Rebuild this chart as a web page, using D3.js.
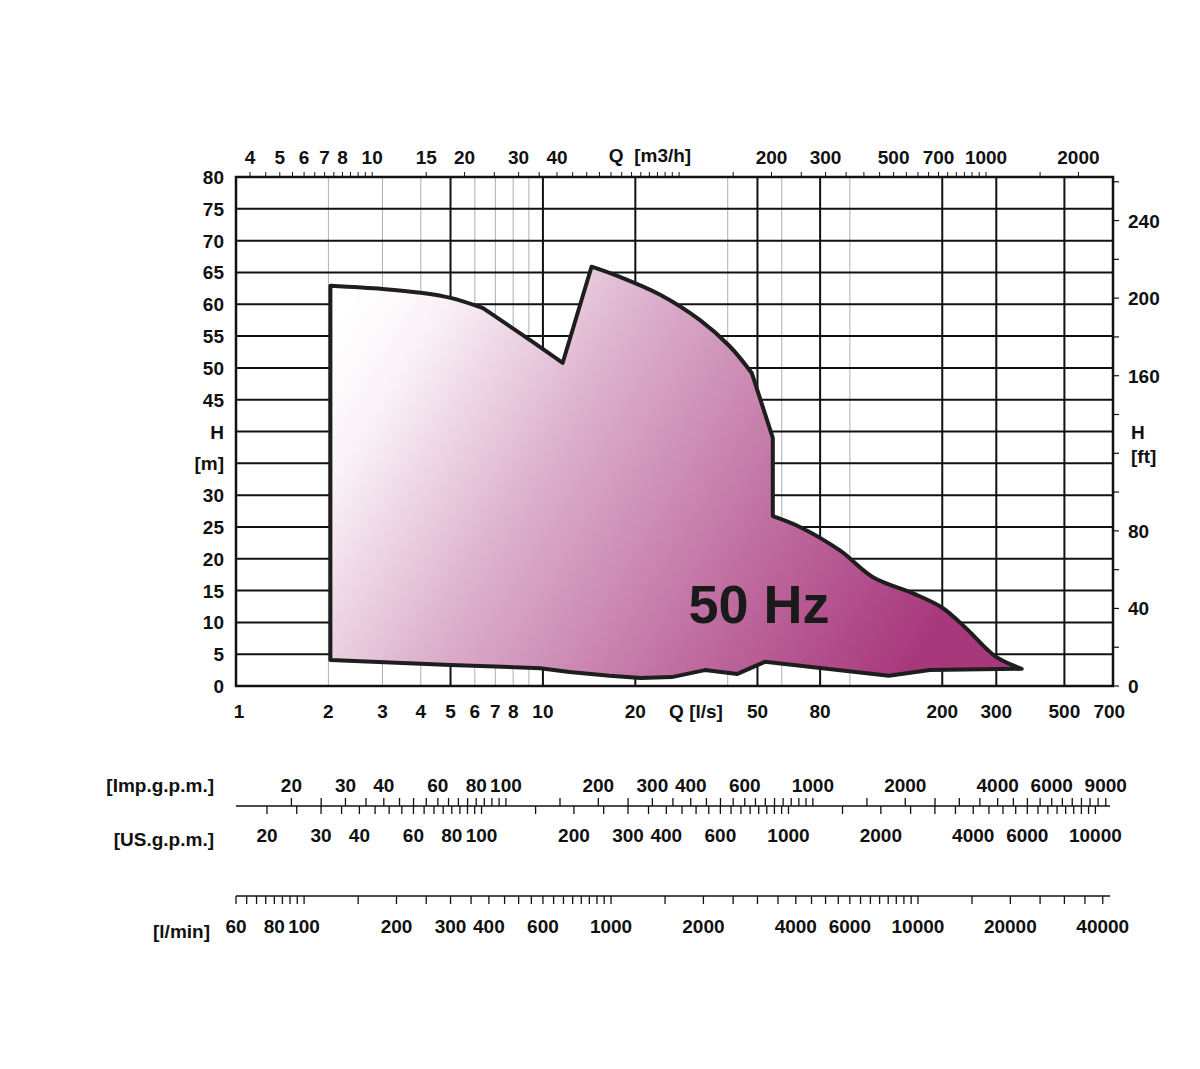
<!DOCTYPE html>
<html>
<head>
<meta charset="utf-8">
<script src="https://cdn.jsdelivr.net/npm/d3@7"></script>
<style>
  html, body { margin: 0; padding: 0; background: #ffffff; }
  svg { display: block; }
  text { font-family: "Liberation Sans", Arial, Helvetica, sans-serif; font-weight: bold; fill: #111; }
</style>
</head>
<body>
<svg id="chart" width="1200" height="1069"></svg>
<script>
// ---------------- data ----------------
// Operating envelope (Q in l/s, H in m), split into edge segments
const edgeLeftQ = [2.03, 2.03];
const edgeLeftH = [4.1, 62.9];
const edgeUpperLeftQ = [2.03, 3, 4, 5, 6.38];
const edgeUpperLeftH = [62.9, 62.4, 61.8, 61.0, 59.4];
const edgeNotchQ = [6.38, 9.06, 11.6, 14.4];
const edgeNotchH = [59.4, 54.4, 50.8, 65.9];
const edgeUpperMidQ = [14.4, 17.8, 24.1, 32.5, 40.6, 47.9];
const edgeUpperMidH = [65.9, 64.3, 61.5, 57.5, 53.4, 49.2];
const edgeDropQ = [47.9, 56.1, 56.1];
const edgeDropH = [49.2, 39.0, 26.7];
const edgeUpperRightQ = [56.1, 68.7, 92.8, 118.9, 160, 200, 240, 297, 363];
const edgeUpperRightH = [26.7, 25.0, 21.3, 17.1, 14.6, 12.3, 9.0, 4.7, 2.7];
const edgeLowerQ = [363, 182, 134, 52.9, 43, 33.7, 26.3, 20.8, 16.5, 12.2, 9.8, 5, 2.03];
const edgeLowerH = [2.7, 2.5, 1.6, 3.8, 1.9, 2.5, 1.4, 1.25, 1.6, 2.2, 2.8, 3.3, 4.1];
const freqLabel = "50 Hz";

// main axes
const qDomain = [1, 720];          // l/s
const hDomain = [0, 80];           // m
const hTickLabels = [0, 5, 10, 15, 20, 25, 30, "[m]", "H", 45, 50, 55, 60, 65, 70, 75, 80];
const hGrid = [5, 10, 15, 20, 25, 30, 35, 40, 45, 50, 55, 60, 65, 70, 75];
const ftTickLabels = [0, 40, 80, 160, 200, 240];
const ftTicks = [0, 20, 40, 60, 80, 100, 120, 140, 160, 180, 200, 220, 240, 260];
const qGridBlack = [5, 10, 20, 50, 80, 200, 300, 500];
const qGridGray = [2, 3, 4, 6, 7, 8, 9, 40, 60, 100];
const lsLabels = [1, 2, 3, 4, 5, 6, 7, 8, 10, 20, 50, 80, 200, 300, 500, 700];
const m3hLabels = [4, 5, 6, 7, 8, 10, 15, 20, 30, 40, 200, 300, 500, 700, 1000, 2000];
const m3hTicks = [4, 4.5, 5, 5.5, 6, 6.5, 7, 7.5, 8, 8.5, 9, 9.5, 10, 15, 20, 25, 30, 35, 40, 45, 50, 55, 60, 65, 70, 75, 80, 85, 90, 95, 100,
                  150, 200, 250, 300, 350, 400, 450, 500, 550, 600, 650, 700, 750, 800, 850, 900, 950, 1000, 1500, 2000];

// secondary flow scales
const impLabels = [20, 30, 40, 60, 80, 100, 200, 300, 400, 600, 1000, 2000, 4000, 6000, 9000];
const usLabels = [20, 30, 40, 60, 80, 100, 200, 300, 400, 600, 1000, 2000, 4000, 6000, 10000];
const gpmTicks = [20, 25, 30, 35, 40, 45, 50, 55, 60, 65, 70, 75, 80, 85, 90, 95, 100,
                  150, 200, 250, 300, 350, 400, 450, 500, 550, 600, 650, 700, 750, 800, 850, 900, 950, 1000,
                  1500, 2000, 2500, 3000, 3500, 4000, 4500, 5000, 5500, 6000, 6500, 7000, 7500, 8000, 8500, 9000, 9500, 10000];
const lminLabels = [60, 80, 100, 200, 300, 400, 600, 1000, 2000, 4000, 6000, 10000, 20000, 40000];
const lminTicks = [60, 65, 70, 75, 80, 85, 90, 95, 100,
                   150, 200, 250, 300, 350, 400, 450, 500, 550, 600, 650, 700, 750, 800, 850, 900, 950, 1000,
                   1500, 2000, 2500, 3000, 3500, 4000, 4500, 5000, 5500, 6000, 6500, 7000, 7500, 8000, 8500, 9000, 9500, 10000,
                   15000, 20000, 25000, 30000, 35000, 40000];

// unit conversion factors relative to l/s and m
const M3H_PER_LS = 3.6, IMP_PER_LS = 13.198, US_PER_LS = 15.850, LMIN_PER_LS = 60, FT_PER_M = 3.2808;

// ---------------- layout ----------------
const L = 236, R = 1113, T = 177, B = 686;
const FS = "19px";
const svg = d3.select("#chart");

const x = d3.scaleLog().domain(qDomain).range([L, R]);
const y = d3.scaleLinear().domain(hDomain).range([B, T]);
const yFt = d3.scaleLinear().domain([hDomain[0] * FT_PER_M, hDomain[1] * FT_PER_M]).range([B, T]);
const xM3h = d3.scaleLog().domain(qDomain.map(v => v * M3H_PER_LS)).range([L, R]);
const xImp = d3.scaleLog().domain(qDomain.map(v => v * IMP_PER_LS)).range([L, R]);
const xUs = d3.scaleLog().domain(qDomain.map(v => v * US_PER_LS)).range([L, R]);
const xLmin = d3.scaleLog().domain(qDomain.map(v => v * LMIN_PER_LS)).range([L, R]);

// gradient
const defs = svg.append("defs");
const grad = defs.append("linearGradient").attr("id", "fillGrad")
  .attr("gradientUnits", "userSpaceOnUse")
  .attr("x1", 350).attr("y1", 300).attr("x2", 920).attr("y2", 650);
[[0, "#ffffff"], [0.12, "#faf2f7"], [0.38, "#dcb0cc"], [0.7, "#c06fa1"], [1, "#a8387c"]]
  .forEach(([o, c]) => grad.append("stop").attr("offset", o).attr("stop-color", c));

// ---------------- grid ----------------
const grid = svg.append("g");
grid.selectAll(".vg").data(qGridGray).join("line")
  .attr("x1", d => x(d)).attr("x2", d => x(d)).attr("y1", T).attr("y2", B)
  .attr("stroke", "#b0b0b0").attr("stroke-width", 1);
grid.selectAll(".hg").data(hGrid).join("line")
  .attr("x1", L).attr("x2", R).attr("y1", d => y(d)).attr("y2", d => y(d))
  .attr("stroke", "#111").attr("stroke-width", 2);
grid.selectAll(".vb").data(qGridBlack).join("line")
  .attr("x1", d => x(d)).attr("x2", d => x(d)).attr("y1", T).attr("y2", B)
  .attr("stroke", "#111").attr("stroke-width", 2);

// ---------------- envelope ----------------
const smooth = d3.curveCatmullRom.alpha(0.5);
const segments = [
  [edgeLeftQ, edgeLeftH, d3.curveLinear],
  [edgeUpperLeftQ, edgeUpperLeftH, smooth],
  [edgeNotchQ, edgeNotchH, d3.curveLinear],
  [edgeUpperMidQ, edgeUpperMidH, smooth],
  [edgeDropQ, edgeDropH, d3.curveLinear],
  [edgeUpperRightQ, edgeUpperRightH, smooth],
  [edgeLowerQ, edgeLowerH, d3.curveLinear]
];
let pathD = "";
segments.forEach(([qs, hs, curve], i) => {
  const p = d3.line().curve(curve)(qs.map((q, j) => [x(q), y(hs[j])]));
  pathD += i === 0 ? p : "L" + p.slice(1);
});
pathD += "Z";
svg.append("path")
  .attr("d", pathD)
  .attr("fill", "url(#fillGrad)")
  .attr("stroke", "#1e1e1e").attr("stroke-width", 4).attr("stroke-linejoin", "round");

svg.append("text").text(freqLabel)
  .attr("x", 759).attr("y", 623).attr("text-anchor", "middle")
  .style("font-size", "54px").style("fill", "#1a1a1a");

// frame
svg.append("rect").attr("x", L).attr("y", T).attr("width", R - L).attr("height", B - T)
  .attr("fill", "none").attr("stroke", "#111").attr("stroke-width", 2.5);

// ---------------- top axis (m3/h) ----------------
svg.append("g").selectAll("line").data(m3hTicks).join("line")
  .attr("x1", d => xM3h(d)).attr("x2", d => xM3h(d)).attr("y1", T).attr("y2", T - 5)
  .attr("stroke", "#111").attr("stroke-width", 1);
svg.append("g").selectAll("text").data(m3hLabels).join("text")
  .attr("x", d => xM3h(d)).attr("y", 164).attr("text-anchor", "middle")
  .style("font-size", FS).text(d => d);
svg.append("text").attr("x", 650).attr("y", 162).attr("text-anchor", "middle")
  .style("font-size", FS).attr("xml:space", "preserve").text("Q  [m3/h]");

// ---------------- bottom axis (l/s) ----------------
svg.append("g").selectAll("text").data(lsLabels).join("text")
  .attr("x", d => d === 1 ? x(d) + 3 : x(d)).attr("y", 718).attr("text-anchor", "middle")
  .style("font-size", FS).text(d => d);
svg.append("text").attr("x", 696).attr("y", 718).attr("text-anchor", "middle")
  .style("font-size", FS).text("Q [l/s]");

// ---------------- left axis (m) ----------------
svg.append("g").selectAll("text").data(hTickLabels).join("text")
  .attr("x", 224).attr("y", (d, i) => y(i * 5) + 7).attr("text-anchor", "end")
  .style("font-size", FS).text(d => d);

// ---------------- right axis (ft) ----------------
svg.append("g").selectAll("line").data(ftTicks).join("line")
  .attr("x1", R).attr("x2", R + 6).attr("y1", d => yFt(d)).attr("y2", d => yFt(d))
  .attr("stroke", "#111").attr("stroke-width", 1.2);
svg.append("g").selectAll("text").data(ftTickLabels).join("text")
  .attr("x", 1128).attr("y", d => yFt(d) + 7).attr("text-anchor", "start")
  .style("font-size", FS).text(d => d);
svg.append("text").attr("x", 1131).attr("y", 439).style("font-size", FS).text("H");
svg.append("text").attr("x", 1131).attr("y", 463).style("font-size", FS).text("[ft]");

// ---------------- gpm scales ----------------
const gY = 806, lineEnd = 1110;
svg.append("line").attr("x1", L).attr("x2", lineEnd).attr("y1", gY).attr("y2", gY)
  .attr("stroke", "#111").attr("stroke-width", 1.5);
svg.append("g").selectAll("line").data(gpmTicks.filter(d => xImp(d) <= lineEnd + 1)).join("line")
  .attr("x1", d => xImp(d)).attr("x2", d => xImp(d)).attr("y1", gY).attr("y2", gY - 8)
  .attr("stroke", "#111").attr("stroke-width", 1.3);
svg.append("g").selectAll("line").data(gpmTicks.filter(d => xUs(d) <= lineEnd + 1)).join("line")
  .attr("x1", d => xUs(d)).attr("x2", d => xUs(d)).attr("y1", gY).attr("y2", gY + 8)
  .attr("stroke", "#111").attr("stroke-width", 1.3);
svg.append("g").selectAll("text").data(impLabels).join("text")
  .attr("x", d => xImp(d)).attr("y", 792).attr("text-anchor", "middle")
  .style("font-size", FS).text(d => d);
svg.append("g").selectAll("text").data(usLabels).join("text")
  .attr("x", d => xUs(d)).attr("y", 842).attr("text-anchor", "middle")
  .style("font-size", FS).text(d => d);
svg.append("text").attr("x", 214).attr("y", 792).attr("text-anchor", "end")
  .style("font-size", FS).text("[Imp.g.p.m.]");
svg.append("text").attr("x", 214).attr("y", 846).attr("text-anchor", "end")
  .style("font-size", FS).text("[US.g.p.m.]");

// ---------------- l/min scale ----------------
const lY = 896;
svg.append("line").attr("x1", L).attr("x2", lineEnd).attr("y1", lY).attr("y2", lY)
  .attr("stroke", "#111").attr("stroke-width", 1.5);
svg.append("g").selectAll("line").data(lminTicks).join("line")
  .attr("x1", d => xLmin(d)).attr("x2", d => xLmin(d)).attr("y1", lY).attr("y2", lY + 8)
  .attr("stroke", "#111").attr("stroke-width", 1.3);
svg.append("g").selectAll("text").data(lminLabels).join("text")
  .attr("x", d => xLmin(d)).attr("y", 933).attr("text-anchor", "middle")
  .style("font-size", FS).text(d => d);
svg.append("text").attr("x", 210).attr("y", 938).attr("text-anchor", "end")
  .style("font-size", FS).text("[l/min]");
</script>
</body>
</html>
